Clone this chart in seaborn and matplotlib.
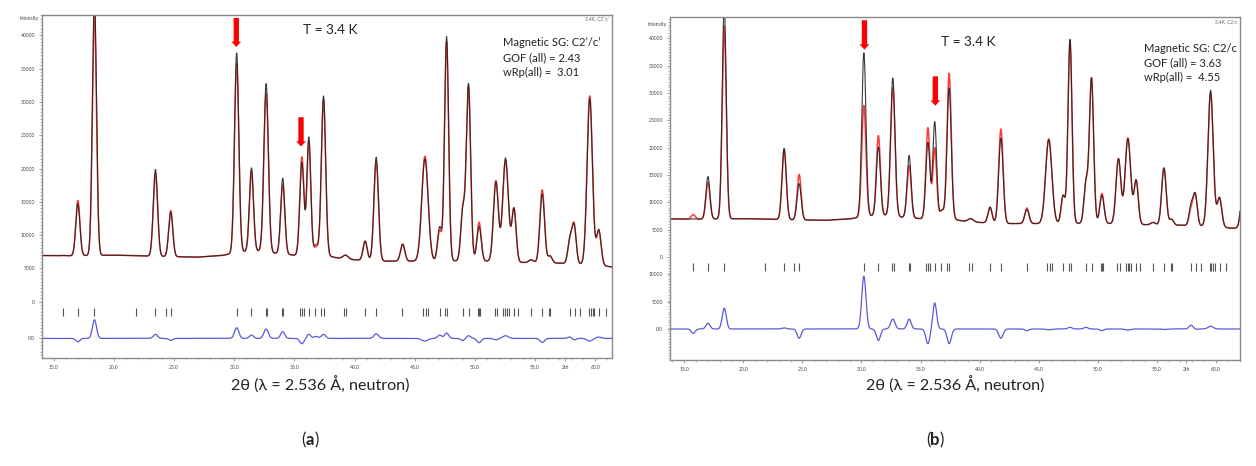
import numpy as np
import pandas as pd
import matplotlib
matplotlib.use("Agg")
import matplotlib.pyplot as plt
from matplotlib.ticker import FixedLocator, MultipleLocator
from matplotlib.transforms import blended_transform_factory
import seaborn as sns

# ---------------- data ----------------
# Bragg peak positions (2theta, deg)
peak_pos = [15.76, 17.0, 18.38, 23.45, 24.72, 30.2, 31.43, 32.65, 34.03, 35.62,
            36.2, 36.8, 37.42, 39.25, 40.88, 41.8, 44.0, 45.85, 47.07, 47.65,
            49.0, 49.47, 50.35, 51.75, 52.55, 53.25, 54.68, 55.6, 56.25, 57.9,
            58.25, 59.55, 60.3, 62.3]
# apparent peak width (FWHM, deg)
peak_fwhm = [0.40, 0.40, 0.40, 0.42, 0.40, 0.42, 0.40, 0.44, 0.40, 0.40,
             0.38, 0.40, 0.42, 0.50, 0.40, 0.44, 0.42, 0.62, 0.40, 0.40,
             0.40, 0.42, 0.42, 0.48, 0.55, 0.42, 0.45, 0.45, 0.40, 0.40,
             0.40, 0.52, 0.45, 0.45]
# observed intensity at each peak top (same data set in both panels)
obs_height = [6950, 14700, 46000, 19850, 13400, 37350, 20100, 32750, 18550, 20950,
              24750, 8600, 30900, 7000, 9100, 21700, 8650, 21450, 11300, 39800,
              14400, 32800, 11300, 18000, 21600, 14100, 6300, 16200, 6900, 10000,
              11700, 30500, 10900, 12500]
# calculated intensity, model C2'/c' (a)
calc_a_height = [6950, 15200, 43200, 19250, 13700, 35750, 19600, 31350, 17550, 21750,
                 24150, 8300, 30300, 7000, 9100, 21000, 8650, 21850, 10800, 39000,
                 14700, 32400, 11950, 18200, 21200, 14100, 6300, 16800, 6900, 9800,
                 11900, 30900, 10700, 12500]
# calculated intensity, model C2/c (b)
calc_b_height = [7750, 13650, 42200, 19650, 15100, 27700, 22200, 30950, 16750, 23650,
                 20000, 8600, 33600, 7000, 9100, 23400, 8950, 21600, 11300, 39500,
                 14100, 32800, 11600, 18000, 21800, 14100, 6300, 16300, 6900, 9300,
                 11700, 30000, 10900, 12500]
# background level
bg_pos = [13.5, 16.0, 20.0, 24.0, 27.0, 29.0, 30.6, 32.0, 33.3, 35.0, 37.0,
          38.5, 40.0, 42.5, 45.0, 48.0, 51.0, 54.0, 57.0, 60.0, 61.3, 62.5]
bg_val = [6950, 6900, 7000, 6800, 6700, 6950, 7500, 7600, 7300, 7000, 7200,
          6600, 6300, 6100, 6100, 6150, 6100, 5900, 5800, 5550, 5250, 5300]
# reflection tick positions
refl_pos = [15.76, 17.0, 18.38, 21.8, 23.45, 24.3, 24.72, 30.2, 31.43, 32.6, 32.74,
            34.0, 34.07, 35.5, 35.65, 35.82, 36.25, 36.75, 37.2, 37.42, 39.12,
            39.32, 40.88, 41.8, 43.98, 45.72, 45.92, 46.12, 47.07, 47.55, 47.7,
            48.99, 49.48, 50.26, 50.37, 50.45, 51.66, 51.86, 52.38, 52.53, 52.68,
            52.85, 53.22, 53.56, 54.68, 55.6, 56.2, 56.28, 57.9, 58.3, 58.78,
            59.48, 59.62, 59.78, 59.92, 60.32, 60.88]
xtick_vals = [15, 20, 25, 30, 35, 40, 45, 50, 55, 57.5, 60]
xtick_text = ["15.0", "20.0", "25.0", "30.0", "35.0", "40.0", "45.0", "50.0",
              "55.0", "2th", "60.0"]
ytick_vals = [0, 5000, 10000, 15000, 20000, 25000, 30000, 35000, 40000]

# ---------------- profile construction ----------------
grid = np.arange(13.5, 62.6, 0.01)
P = np.array(peak_pos)
S = np.array(peak_fwhm) / 2.3548


def profile(heights):
    base_at_peaks = np.interp(P, bg_pos, bg_val)
    G = np.exp(-0.5 * ((P[:, None] - P[None, :]) / S[None, :]) ** 2)
    amp = np.linalg.solve(G, np.array(heights) - base_at_peaks)
    shape = np.exp(-0.5 * ((grid[:, None] - P[None, :]) / S[None, :]) ** 2)
    return np.interp(grid, bg_pos, bg_val) + shape @ amp


y_obs = profile(obs_height)
y_ca = profile(calc_a_height)
y_cb = profile(calc_b_height)

sns.set_style("ticks")
plt.rcParams["font.family"] = ["Lato", "DejaVu Sans"]

fig = plt.figure(figsize=(12.56, 4.66), dpi=100)
W, H = 1256, 466


def make_ax(l, r, t, b):
    return fig.add_axes([l / W, 1 - b / H, (r - l) / W, (b - t) / H])


panels = [
    dict(box=(42, 612, 15, 358), xlim=(14.02, 61.40), ylim=(-8445, 43050),
         calc=y_ca, dzero=-5500, dlabels=[(-5500, "0.0")], tick=(-950, -2100),
         inten_y=42450, corner="3.4K, C2\u2019/c\u2019",
         sg="Magnetic SG: C2\u2019/c\u2019", gof="GOF (all) = 2.43",
         wrp="wRp(all) =  3.01",
         T_xy=(303, 30), sg_xy=(503, 43), lbl="a", lbl_x=310, xl_x=320,
         arrows=[(30.17, 42600, 38250), (35.55, 27700, 23300)]),
    dict(box=(670, 1240, 17, 360), xlim=(13.79, 62.04), ylim=(-18870, 43900),
         calc=y_cb, dzero=-13190,
         dlabels=[(-13190, "0.0"), (-8190, "5000"), (-3190, "10000")],
         tick=(-1150, -2510), inten_y=42500, corner="3.4K, C2/c",
         sg="Magnetic SG: C2/c", gof="GOF (all) = 3.63", wrp="wRp(all) =  4.55",
         T_xy=(941, 42), sg_xy=(1144, 48), lbl="b", lbl_x=935, xl_x=955,
         arrows=[(30.25, 43300, 37920), (36.25, 33030, 27660)]),
]

for p in panels:
    ax = make_ax(*p["box"])
    df = pd.DataFrame({"x": grid, "obs": y_obs, "calc": p["calc"],
                       "diff": y_obs - p["calc"] + p["dzero"]})
    sns.lineplot(data=df, x="x", y="calc", ax=ax, color="#ff3b3b", lw=1.1,
                 estimator=None, sort=False)
    sns.lineplot(data=df, x="x", y="obs", ax=ax, color="#262626", lw=0.8,
                 alpha=0.92, estimator=None, sort=False)
    sns.lineplot(data=df, x="x", y="diff", ax=ax, color="#5a5ad8", lw=0.9,
                 estimator=None, sort=False)
    ax.vlines(refl_pos, p["tick"][1], p["tick"][0], color="#555555", lw=0.8)

    ax.set_xlim(*p["xlim"])
    ax.set_ylim(*p["ylim"])
    ax.set_xlabel("")
    ax.set_ylabel("")
    ax.xaxis.set_major_locator(FixedLocator(xtick_vals))
    ax.set_xticklabels(xtick_text)
    ax.xaxis.set_minor_locator(MultipleLocator(1.0))
    yv = ytick_vals + [v for v, _ in p["dlabels"]]
    yl = [str(v) for v in ytick_vals] + [s for _, s in p["dlabels"]]
    ax.yaxis.set_major_locator(FixedLocator(yv))
    ax.set_yticklabels(yl)
    ax.yaxis.set_minor_locator(MultipleLocator(500))
    ax.tick_params(which="major", length=2.5, width=0.5, color="#777777",
                   labelsize=3.6, labelcolor="#444444", pad=2.5)
    ax.tick_params(which="minor", length=1.3, width=0.4, color="#888888")
    for s in ax.spines.values():
        s.set_color("#8a8a8a")
        s.set_linewidth(1.0)

    tr = blended_transform_factory(ax.transAxes, ax.transData)
    ax.text(-0.006, p["inten_y"], "Intensity", transform=tr, ha="right",
            va="center", fontsize=3.6, color="#444444")
    ax.text(0.995, 0.993, p["corner"], transform=ax.transAxes, ha="right",
            va="top", fontsize=3.4, color="#666666")

    for (xa, ytop, ytip) in p["arrows"]:
        ax.annotate("", xy=(xa, ytip), xytext=(xa, ytop),
                    arrowprops=dict(arrowstyle="simple,head_width=1.0,head_length=0.55,tail_width=0.55",
                                    color="#ff0000", lw=0, shrinkA=0, shrinkB=0,
                                    mutation_scale=7))

    tx, ty = p["T_xy"]
    fig.text(tx / W, 1 - ty / H, "T = 3.4 K", ha="left", va="center",
             fontsize=9.8, color="#222222")
    sx, sy = p["sg_xy"]
    for i, s in enumerate([p["sg"], p["gof"], p["wrp"]]):
        fig.text(sx / W, 1 - (sy + 14.5 * i) / H, s, ha="left", va="center",
                 fontsize=8.0, color="#222222")
    fig.text(p["xl_x"] / W, 1 - 385 / H, "2\u03b8 (\u03bb = 2.536 \u00c5, neutron)",
             ha="center", va="center", fontsize=11.6, color="#222222")
    lx = p["lbl_x"] / W
    ly = 1 - 440 / H
    fig.text(lx, ly, p["lbl"], ha="center", va="center", fontsize=12,
             fontweight="bold", color="#222222")
    fig.text(lx - 0.0036, ly, "(", ha="right", va="center", fontsize=12,
             color="#222222")
    fig.text(lx + 0.0036, ly, ")", ha="left", va="center", fontsize=12,
             color="#222222")

fig.savefig("out.png", dpi=100, facecolor="white")
